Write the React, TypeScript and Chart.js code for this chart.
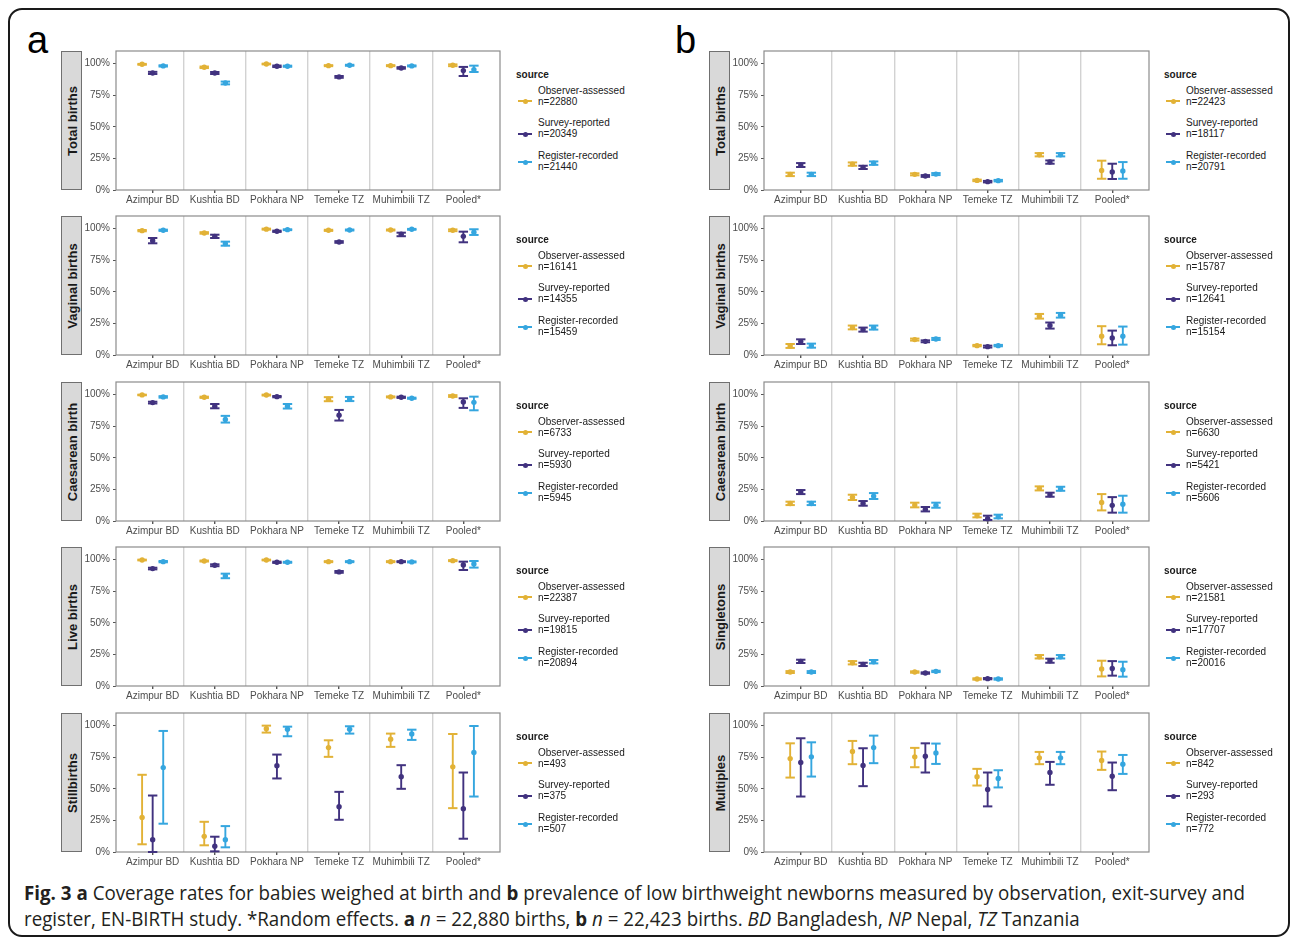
import React, { useEffect, useLayoutEffect, useRef, useState } from 'react';
import { Chart, registerables } from 'chart.js';

Chart.register(...registerables);

// ---------- data (percent: [estimate, lower, upper]) ----------
const categories = ['Azimpur BD', 'Kushtia BD', 'Pokhara NP', 'Temeke TZ', 'Muhimbili TZ', 'Pooled*'];
const sources = ['Observer-assessed', 'Survey-reported', 'Register-recorded'];
const yTickValues = [0, 25, 50, 75, 100];

// a: coverage of weighing
const aTotalObs = [[99.5, 99.1, 99.8], [97.1, 96.5, 97.7], [99.7, 99.4, 100], [98.4, 98.0, 98.8], [98.4, 98.0, 98.8], [98.7, 98.0, 99.4]];
const aTotalSur = [[92.6, 91.8, 93.5], [92.6, 91.8, 93.4], [97.9, 97.3, 98.5], [89.5, 88.8, 90.2], [96.6, 96.0, 97.2], [94.5, 90.2, 97.4]];
const aTotalReg = [[98.2, 97.7, 98.7], [84.7, 83.6, 85.8], [97.9, 97.5, 98.4], [98.7, 98.3, 99.1], [98.2, 97.8, 98.6], [95.3, 93.4, 98.4]];
const aTotalN = [22880, 20349, 21440];

const aVagObs = [[98.4, 97.9, 98.9], [96.6, 96.0, 97.2], [99.6, 99.2, 100], [98.7, 98.2, 99.1], [98.9, 98.5, 99.3], [98.7, 98.0, 99.4]];
const aVagSur = [[90.5, 88.4, 92.6], [93.9, 92.6, 95.2], [97.9, 97.4, 98.4], [89.4, 88.8, 90.1], [95.5, 94.0, 96.8], [93.9, 89.2, 97.6]];
const aVagReg = [[98.7, 98.2, 99.2], [88.1, 86.5, 89.7], [99.2, 98.8, 99.5], [98.9, 98.5, 99.3], [99.5, 99.1, 99.8], [97.1, 95.0, 99.5]];
const aVagN = [16141, 14355, 15459];

const aCaesObs = [[99.8, 99.5, 100], [97.9, 97.4, 98.4], [99.7, 99.3, 100], [96.3, 94.8, 98.0], [98.2, 97.8, 98.6], [98.9, 98.2, 99.6]];
const aCaesSur = [[93.7, 93.0, 94.4], [90.8, 89.2, 92.6], [98.4, 97.9, 98.9], [83.7, 79.5, 87.9], [97.9, 97.4, 98.4], [94.2, 89.5, 97.1]];
const aCaesReg = [[98.2, 97.6, 98.8], [80.3, 77.9, 83.2], [90.8, 89.0, 92.6], [96.6, 94.9, 98.2], [97.1, 96.7, 97.6], [93.9, 87.6, 98.4]];
const aCaesN = [6733, 5930, 5945];

const aLiveObs = [[99.7, 99.4, 100], [98.9, 98.5, 99.3], [99.7, 99.4, 100], [98.4, 98.0, 98.8], [98.4, 98.0, 98.8], [99.2, 98.8, 99.6]];
const aLiveSur = [[92.9, 92.3, 93.6], [95.5, 94.8, 96.3], [97.9, 97.4, 98.4], [90.3, 89.6, 91.0], [98.4, 98.0, 98.8], [95.8, 91.8, 98.4]];
const aLiveReg = [[98.4, 97.9, 98.9], [87.1, 85.3, 88.9], [97.9, 97.5, 98.3], [98.4, 98.0, 98.8], [98.2, 97.8, 98.6], [96.6, 93.7, 98.9]];
const aLiveN = [22387, 19815, 20894];

const aStillObs = [[27.4, 6.1, 61.1], [12.4, 5.3, 23.9], [97.6, 94.5, 100], [82.6, 75.3, 88.4], [89.2, 83.2, 93.7], [67.4, 34.7, 93.4]];
const aStillSur = [[9.7, 0, 44.7], [4.5, 0.5, 12.1], [68.2, 58.2, 77.1], [35.8, 25.5, 47.6], [59.5, 50.0, 68.7], [34.2, 10.5, 62.9]];
const aStillReg = [[66.8, 22.4, 95.8], [9.7, 3.7, 20.5], [97.1, 91.6, 99.2], [97.1, 93.7, 99.5], [93.4, 88.7, 96.8], [78.7, 43.9, 99.7]];
const aStillN = [493, 375, 507];

// b: prevalence of low birthweight
const bTotalObs = [[12.4, 11.0, 13.7], [20.5, 19.2, 21.8], [12.4, 11.6, 13.2], [7.6, 7.0, 8.2], [27.9, 26.6, 29.2], [15.5, 8.9, 23.2]];
const bTotalSur = [[19.7, 18.2, 21.3], [17.9, 16.6, 19.2], [11.1, 10.4, 11.8], [6.6, 6.0, 7.2], [22.1, 20.8, 23.4], [14.2, 8.7, 20.8]];
const bTotalReg = [[12.4, 11.0, 13.7], [21.3, 19.9, 22.6], [12.6, 11.8, 13.4], [7.4, 6.8, 8.0], [27.9, 26.6, 29.2], [15.0, 8.9, 22.1]];
const bTotalN = [22423, 18117, 20791];

const bVagObs = [[7.1, 5.6, 8.7], [21.7, 20.3, 23.3], [12.2, 11.4, 13.0], [7.4, 6.9, 8.0], [30.7, 28.8, 32.5], [14.8, 8.5, 22.8]];
const bVagSur = [[10.6, 8.7, 12.4], [20.1, 18.5, 21.7], [10.8, 10.1, 11.6], [6.6, 5.9, 7.4], [23.3, 20.9, 25.7], [13.5, 7.7, 19.3]];
const bVagReg = [[7.4, 5.8, 9.0], [21.7, 20.1, 23.3], [12.7, 11.9, 13.5], [7.4, 6.9, 8.0], [31.5, 29.6, 33.3], [14.8, 8.2, 22.5]];
const bVagN = [15787, 12641, 15154];

const bCaesObs = [[13.9, 12.6, 15.3], [18.7, 16.6, 20.8], [12.6, 10.8, 14.5], [4.2, 2.9, 5.8], [25.8, 24.2, 27.4], [14.7, 8.4, 21.3]];
const bCaesSur = [[22.9, 21.3, 24.5], [13.9, 12.1, 15.8], [9.2, 7.6, 11.1], [1.8, 0.8, 4.2], [20.8, 19.2, 22.4], [12.4, 6.6, 18.9]];
const bCaesReg = [[13.9, 12.6, 15.3], [19.7, 17.4, 22.1], [12.4, 10.5, 14.5], [3.4, 2.1, 5.0], [25.5, 23.9, 27.1], [13.2, 6.6, 20.0]];
const bCaesN = [6630, 5421, 5606];

const bSingObs = [[11.1, 10.3, 11.8], [18.4, 17.1, 19.7], [11.1, 10.5, 11.6], [5.5, 5.0, 6.1], [23.2, 21.8, 24.5], [13.4, 7.6, 20.0]];
const bSingSur = [[19.5, 18.2, 20.8], [17.1, 15.8, 18.4], [10.3, 9.7, 10.8], [5.8, 5.3, 6.3], [20.0, 18.4, 21.6], [13.9, 8.2, 19.7]];
const bSingReg = [[11.1, 10.3, 11.8], [19.2, 17.9, 20.6], [11.6, 11.0, 12.1], [5.5, 5.0, 6.1], [23.2, 21.8, 24.5], [12.9, 7.4, 19.2]];
const bSingN = [21581, 17707, 20016];

const bMultObs = [[73.9, 58.9, 86.0], [79.5, 69.5, 87.9], [75.3, 67.1, 82.4], [59.5, 52.6, 65.8], [74.5, 69.5, 79.2], [72.4, 65.0, 79.5]];
const bMultSur = [[70.8, 43.9, 90.0], [68.4, 52.1, 82.1], [75.8, 62.9, 86.0], [49.5, 36.1, 62.9], [62.9, 53.2, 71.3], [60.0, 48.9, 70.8]];
const bMultReg = [[75.3, 59.7, 86.8], [82.6, 70.3, 92.1], [78.4, 69.7, 85.8], [58.2, 51.1, 64.7], [74.5, 69.5, 79.2], [69.5, 61.8, 76.8]];
const bMultN = [842, 293, 772];

// ---------- styling / layout ----------
const COLORS = ['#E2B236', '#41327F', '#35A6DF'];
const DODGE = [-0.17, 0, 0.17];
const FONT = "'Liberation Sans', Arial, Helvetica, sans-serif";
const ROW_TOPS = [51, 216, 382, 547, 713];
const PLOT_H = 139;
const PAD_L = 40;
const PAD_T = 4;
const PAD_R = 4;
const X_H = 24;

type Series = number[][];
type PanelDef = { label: string; series: Series[]; n: number[] };
type ColDef = { letter: string; letterX: number; stripX: number; plotLeft: number; plotW: number; legendX: number; panels: PanelDef[] };

const colA: ColDef = {
  letter: 'a', letterX: 27, stripX: 61, plotLeft: 116, plotW: 384, legendX: 516,
  panels: [
    { label: 'Total births', series: [aTotalObs, aTotalSur, aTotalReg], n: aTotalN },
    { label: 'Vaginal births', series: [aVagObs, aVagSur, aVagReg], n: aVagN },
    { label: 'Caesarean birth', series: [aCaesObs, aCaesSur, aCaesReg], n: aCaesN },
    { label: 'Live births', series: [aLiveObs, aLiveSur, aLiveReg], n: aLiveN },
    { label: 'Stillbirths', series: [aStillObs, aStillSur, aStillReg], n: aStillN },
  ],
};
const colB: ColDef = {
  letter: 'b', letterX: 675, stripX: 709, plotLeft: 764, plotW: 385, legendX: 1164,
  panels: [
    { label: 'Total births', series: [bTotalObs, bTotalSur, bTotalReg], n: bTotalN },
    { label: 'Vaginal births', series: [bVagObs, bVagSur, bVagReg], n: bVagN },
    { label: 'Caesarean birth', series: [bCaesObs, bCaesSur, bCaesReg], n: bCaesN },
    { label: 'Singletons', series: [bSingObs, bSingSur, bSingReg], n: bSingN },
    { label: 'Multiples', series: [bMultObs, bMultSur, bMultReg], n: bMultN },
  ],
};

const framePlugin = {
  id: 'frame',
  beforeDatasetsDraw(chart: any) {
    const { ctx, chartArea } = chart;
    ctx.save();
    ctx.strokeStyle = '#8c8c8c';
    ctx.lineWidth = 1.2;
    ctx.strokeRect(chartArea.left, chartArea.top, chartArea.right - chartArea.left, chartArea.bottom - chartArea.top);
    ctx.restore();
  },
};

function buildDatasets(series: Series[]) {
  const ds: any[] = [];
  series.forEach((rows, s) => {
    const c = COLORS[s];
    const off = DODGE[s];
    ds.push({
      type: 'line',
      data: rows.flatMap((r, i) => [
        { x: i + off, y: r[1] },
        { x: i + off, y: r[2] },
        { x: i + off, y: null },
      ]),
      showLine: true,
      spanGaps: false,
      borderColor: c,
      borderWidth: 1.9,
      pointRadius: 0,
      clip: 6,
      order: 3,
    });
    ds.push({
      type: 'scatter',
      data: rows.flatMap((r, i) => [
        { x: i + off, y: r[1] },
        { x: i + off, y: r[2] },
      ]),
      pointStyle: 'line',
      pointRadius: 4.7,
      borderColor: c,
      pointBorderColor: c,
      borderWidth: 2,
      pointBorderWidth: 2,
      clip: 6,
      order: 2,
    });
    ds.push({
      type: 'scatter',
      data: rows.map((r, i) => ({ x: i + off, y: r[0] })),
      pointRadius: 2.7,
      backgroundColor: c,
      pointBackgroundColor: c,
      borderColor: c,
      pointBorderWidth: 0,
      clip: 6,
      order: 1,
    });
  });
  return ds;
}

function PanelChart({ col, row }: { col: ColDef; row: number }) {
  const ref = useRef<HTMLCanvasElement>(null);
  const p = col.panels[row];
  const top = ROW_TOPS[row];
  const W = col.plotW + PAD_L + PAD_R;
  const H = PLOT_H + PAD_T + X_H;

  useEffect(() => {
    const isHalf = (v: number) => Math.abs(v - Math.round(v)) > 0.01;
    const chart = new Chart(ref.current as HTMLCanvasElement, {
      type: 'scatter',
      data: { datasets: buildDatasets(p.series) },
      options: {
        animation: false,
        responsive: false,
        events: [],
        layout: { autoPadding: false, padding: { top: PAD_T, right: PAD_R, left: 0, bottom: 0 } },
        plugins: { legend: { display: false }, tooltip: { enabled: false } },
        scales: {
          x: {
            type: 'linear',
            min: -0.59,
            max: 5.59,
            afterBuildTicks: (s: any) => {
              const vals: number[] = [];
              categories.forEach((_, i) => {
                vals.push(i);
                if (i < categories.length - 1) vals.push(i + 0.5);
              });
              s.ticks = vals.map((v) => ({ value: v }));
            },
            afterFit: (s: any) => {
              s.height = X_H;
              s.paddingLeft = 0;
              s.paddingRight = 0;
              s.paddingTop = 0;
              s.paddingBottom = 0;
            },
            ticks: {
              autoSkip: false,
              maxRotation: 0,
              minRotation: 0,
              padding: 1,
              color: '#4d4d4d',
              font: { size: 10, family: FONT },
              callback: (v: any) => (isHalf(Number(v)) ? '' : categories[Math.round(Number(v))]),
            },
            grid: {
              drawOnChartArea: true,
              drawTicks: true,
              tickLength: 3,
              lineWidth: 1.4,
              color: (ctx: any) => (ctx.tick && isHalf(ctx.tick.value) ? '#d2d2d2' : 'rgba(0,0,0,0)'),
              tickColor: (ctx: any) => (ctx.tick && isHalf(ctx.tick.value) ? 'rgba(0,0,0,0)' : '#555555'),
            },
            border: { display: false },
          },
          y: {
            type: 'linear',
            min: 0,
            max: 110,
            afterBuildTicks: (s: any) => { s.ticks = yTickValues.map((v) => ({ value: v })); },
            afterFit: (s: any) => {
              s.width = PAD_L;
              s.paddingTop = 0;
              s.paddingBottom = 0;
              s.paddingLeft = 0;
              s.paddingRight = 0;
            },
            ticks: {
              padding: 3,
              color: '#4d4d4d',
              font: { size: 10, family: FONT },
              callback: (v: any) => `${v}%`,
            },
            grid: { drawOnChartArea: false, drawTicks: true, tickLength: 3, color: '#555555', tickColor: '#555555', lineWidth: 1 },
            border: { display: false },
          },
        },
      },
      plugins: [framePlugin],
    } as any);
    return () => chart.destroy();
  }, []);

  const lx = col.legendX;
  const textStyle: React.CSSProperties = { position: 'absolute', font: `10px ${FONT}`, color: '#1a1a1a', whiteSpace: 'nowrap', lineHeight: '12px' };
  const symY = [50, 83, 111];

  return (
    <>
      <canvas ref={ref} width={W} height={H} style={{ position: 'absolute', left: col.plotLeft - PAD_L, top: top - PAD_T, width: W, height: H }} />
      <div
        style={{
          position: 'absolute', left: col.stripX, top, width: 21, height: PLOT_H, boxSizing: 'border-box',
          background: '#d9d9d9', border: '1px solid #707070',
        }}
      >
        <div
          style={{
            position: 'absolute', left: '50%', top: '50%', transform: 'translate(-50%, -50%) rotate(-90deg)',
            font: `bold 13px ${FONT}`, color: '#1a1a1a', whiteSpace: 'nowrap',
          }}
        >
          {p.label}
        </div>
      </div>
      <div style={{ ...textStyle, left: lx, top: top + 24 - 6, fontWeight: 'bold' }}>source</div>
      {sources.map((name, s) => {
        const base = [40, 72, 105][s];
        return (
          <React.Fragment key={name}>
            <div style={{ ...textStyle, left: lx + 22, top: top + base - 6 }}>{name}</div>
            <div style={{ ...textStyle, left: lx + 22, top: top + base + 10.5 - 6 }}>{`n=${p.n[s]}`}</div>
            <div style={{ position: 'absolute', left: lx + 2, top: top + symY[s] - 1, width: 14, height: 2, background: COLORS[s] }} />
            <div style={{ position: 'absolute', left: lx + 6.5, top: top + symY[s] - 2.5, width: 5, height: 5, borderRadius: '50%', background: COLORS[s] }} />
          </React.Fragment>
        );
      })}
    </>
  );
}

function Caption() {
  const r1 = useRef<HTMLDivElement>(null);
  const [scale, setScale] = useState(1);
  useLayoutEffect(() => {
    if (r1.current) {
      const w = r1.current.getBoundingClientRect().width;
      if (w > 0) setScale(1221 / w);
    }
  }, []);
  const base: React.CSSProperties = {
    position: 'absolute', left: 24, whiteSpace: 'nowrap', font: `20px 'Open Sans', ${FONT}`,
    color: '#231f20', lineHeight: '24px', transformOrigin: 'left center', transform: `scaleX(${scale})`,
  };
  return (
    <>
      <div ref={r1} style={{ ...base, top: 881 }}>
        <b>Fig. 3</b> <b>a</b> Coverage rates for babies weighed at birth and <b>b</b> prevalence of low birthweight newborns measured by observation, exit-survey and
      </div>
      <div style={{ ...base, top: 907 }}>
        register, EN-BIRTH study. *Random effects. <b>a</b> <i>n</i> = 22,880 births, <b>b</b> <i>n</i> = 22,423 births. <i>BD</i> Bangladesh, <i>NP</i> Nepal, <i>TZ</i> Tanzania
      </div>
    </>
  );
}

export default function App() {
  return (
    <div style={{ position: 'absolute', left: 0, top: 0, width: 1292, height: 938, background: '#ffffff', overflow: 'hidden' }}>
      <div
        style={{
          position: 'absolute', left: 8, top: 8, width: 1282, height: 929, boxSizing: 'border-box',
          border: '2px solid #1a1a1a', borderRadius: 14,
        }}
      />
      {[colA, colB].map((col) => (
        <React.Fragment key={col.letter}>
          <div style={{ position: 'absolute', left: col.letterX, top: 21, font: `38px ${FONT}`, lineHeight: '38px', color: '#000' }}>{col.letter}</div>
          {col.panels.map((_, r) => (
            <PanelChart key={r} col={col} row={r} />
          ))}
        </React.Fragment>
      ))}
      <Caption />
    </div>
  );
}
